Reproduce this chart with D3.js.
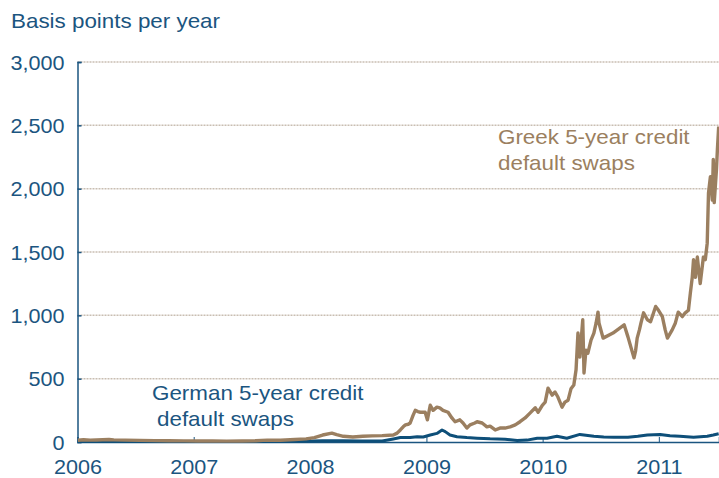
<!DOCTYPE html>
<html>
<head>
<meta charset="utf-8">
<script src="https://cdn.jsdelivr.net/npm/d3@7"></script>
<style>
  body { margin: 0; background: #fff; }
  svg { display: block; font-family: "Liberation Sans", Arial, sans-serif; }
</style>
</head>
<body>
<svg width="719" height="478"></svg>
<script>
// CDS spreads, basis points per year
const greekDates = [
  "2006-01-02","2006-01-20","2006-02-10","2006-03-01","2006-04-10","2006-04-25","2006-06-01","2006-07-15",
  "2006-09-01","2006-10-15","2006-12-01","2007-01-15","2007-03-01","2007-04-15","2007-06-01","2007-07-15",
  "2007-08-20","2007-10-01","2007-11-15","2007-12-20","2008-01-15","2008-02-10","2008-03-10","2008-03-25",
  "2008-04-15","2008-05-15","2008-06-15","2008-07-15","2008-08-15","2008-09-19","2008-10-01","2008-10-11",
  "2008-10-20","2008-10-27","2008-11-05","2008-11-11","2008-11-20","2008-11-27","2008-12-05","2008-12-13",
  "2008-12-28","2009-01-04","2009-01-13","2009-01-22","2009-02-03","2009-02-12","2009-02-22","2009-03-10",
  "2009-03-22","2009-04-01","2009-04-16","2009-04-26","2009-05-08","2009-05-18","2009-06-02","2009-06-09",
  "2009-06-25","2009-07-10","2009-07-20","2009-08-05","2009-08-20","2009-09-05","2009-09-21","2009-10-07",
  "2009-10-22","2009-11-07","2009-11-23","2009-12-09","2009-12-18","2009-12-31","2010-01-09","2010-01-18",
  "2010-01-31","2010-02-09","2010-02-18","2010-03-03","2010-03-12","2010-03-22","2010-03-31","2010-04-09",
  "2010-04-16","2010-04-22","2010-04-28","2010-05-07","2010-05-11","2010-05-17","2010-05-23","2010-06-02",
  "2010-06-11","2010-06-18","2010-06-24","2010-06-27","2010-07-10","2010-08-10","2010-09-14","2010-09-26",
  "2010-10-12","2010-10-15","2010-10-20","2010-10-25","2010-11-01","2010-11-06","2010-11-14","2010-11-26",
  "2010-12-06","2010-12-22","2010-12-31","2011-01-12","2011-01-21","2011-01-28","2011-02-12","2011-02-22",
  "2011-03-03","2011-03-16","2011-03-25","2011-04-04","2011-04-10","2011-04-16","2011-04-20","2011-04-26",
  "2011-05-02","2011-05-11","2011-05-21","2011-05-27","2011-06-02","2011-06-06","2011-06-12","2011-06-18",
  "2011-06-21","2011-06-24","2011-07-01","2011-07-04","2011-07-08"
]
const greekValues = [
  14,18,15,16,20,17,15,13,
  11,10,9,8,9,7,8,10,
  15,14,20,25,35,55,70,58,
  45,40,45,48,50,55,70,95,
  120,135,140,150,210,250,240,235,
  235,175,290,250,275,270,250,235,
  190,160,175,150,110,135,150,160,
  150,120,125,95,110,110,120,135,
  160,190,230,270,235,290,315,425,
  370,395,355,275,315,330,420,450,
  570,860,670,965,545,725,700,805,
  860,940,1025,940,820,860,925,830,
  690,665,720,820,885,940,1020,965,
  950,1070,1040,990,885,820,885,940,
  1025,990,1020,1040,1175,1300,1440,1300,
  1460,1250,1460,1440,1570,1965,2095,1910,
  2230,1890,2150,2310,2490
]

const germanDates = [
  "2006-01-02","2006-04-01","2006-07-01","2006-10-01","2007-01-01","2007-04-01","2007-07-01","2007-10-01",
  "2007-12-10","2008-02-10","2008-04-15","2008-06-10","2008-08-15","2008-09-19","2008-10-11","2008-11-11",
  "2008-12-03","2008-12-22","2009-01-13","2009-02-03","2009-02-19","2009-03-01","2009-03-16","2009-04-07",
  "2009-05-08","2009-06-09","2009-07-20","2009-09-05","2009-10-13","2009-11-13","2009-12-15","2010-01-15",
  "2010-02-15","2010-03-18","2010-04-28","2010-06-11","2010-07-12","2010-08-13","2010-09-26","2010-10-27",
  "2010-11-26","2011-01-05","2011-02-05","2011-03-08","2011-04-20","2011-06-02","2011-06-21","2011-07-08"
]
const germanValues = [
  3,4,3,4,3,4,4,6,
  6,10,10,8,8,24,35,35,
  42,40,55,68,95,82,55,42,
  35,30,25,22,12,15,30,30,
  45,30,60,45,40,37,37,45,
  55,60,50,45,37,45,55,65
]

const yTicks = [0, 500, 1000, 1500, 2000, 2500, 3000]
const xTickYears = ["2006","2007","2008","2009","2010","2011"]

const blue = "#1b5580"
const lineBlue = "#0e4f79"
const brown = "#9b7f60"

let parse = d3.timeParse("%Y-%m-%d")
let greek = greekDates.map((d, i) => ({ date: parse(d), value: greekValues[i] }))
let german = germanDates.map((d, i) => ({ date: parse(d), value: germanValues[i] }))

let plotLeft = 77.5, plotRight = 719, plotTop = 62, plotBottom = 442
// the source lettering is a little wider than Liberation Sans at the same height
let stretch = 1.12, tickStretch = 1.08

let x = d3.scaleTime()
    .domain([parse("2006-01-01"), parse("2011-07-09")])
    .range([plotLeft, plotRight])

let y = d3.scaleLinear()
    .domain([0, 3000])
    .range([plotBottom, plotTop])

let svg = d3.select("svg")

// title
svg.append("text")
    .attr("transform", "translate(11,27.5) scale(" + stretch + ",1)")
    .attr("fill", blue)
    .style("font-size", "20px")
    .text("Basis points per year")

// grid lines
svg.append("g")
    .selectAll("line")
    .data(yTicks.filter(d => d > 0))
    .enter().append("line")
    .attr("x1", plotLeft)
    .attr("x2", plotRight)
    .attr("y1", d => y(d))
    .attr("y2", d => y(d))
    .attr("stroke", "#c9beb2")
    .attr("stroke-width", 1.5)
    .attr("stroke-dasharray", "2,1")

// y axis
let yAxis = svg.append("g")
    .attr("transform", "translate(" + plotLeft + ",0)")
    .call(d3.axisRight(y).tickValues(yTicks).tickSize(4).tickFormat(d3.format(",")))
yAxis.select(".domain").attr("stroke", blue).attr("stroke-width", 1.5)
yAxis.selectAll(".tick line").attr("stroke", blue).attr("stroke-width", 1.5)
yAxis.selectAll(".tick text")
    .attr("x", 0)
    .attr("dy", "0.35em")
    .attr("transform", "translate(-13,0) scale(" + tickStretch + ",1)")
    .attr("text-anchor", "end")
    .attr("fill", blue)
    .style("font-size", "20px")
    .style("font-family", "Liberation Sans, Arial, sans-serif")

// x axis (ticks point up into the plot)
let xAxis = svg.append("g")
    .attr("transform", "translate(0," + plotBottom + ")")
    .call(d3.axisTop(x).tickValues(xTickYears.map(d => parse(d + "-01-01"))).tickSize(5).tickFormat(d3.timeFormat("%Y")))
xAxis.select(".domain").attr("stroke", blue).attr("stroke-width", 1.5)
xAxis.selectAll(".tick line").attr("stroke", blue).attr("stroke-width", 1)
xAxis.selectAll(".tick text")
    .attr("y", 0)
    .attr("dy", 0)
    .attr("transform", "translate(0,32) scale(" + tickStretch + ",1)")
    .attr("fill", blue)
    .style("font-size", "20px")
    .style("font-family", "Liberation Sans, Arial, sans-serif")

let line = d3.line()
    .x(d => x(d.date))
    .y(d => y(d.value))

svg.append("path")
    .datum(german)
    .attr("d", line)
    .attr("fill", "none")
    .attr("stroke", lineBlue)
    .attr("stroke-width", 3)
    .attr("stroke-linejoin", "round")

svg.append("path")
    .datum(greek)
    .attr("d", line)
    .attr("fill", "none")
    .attr("stroke", brown)
    .attr("stroke-width", 3.4)
    .attr("stroke-linejoin", "round")

// labels
let greekLabel = svg.append("text")
    .attr("transform", "translate(498,0) scale(" + stretch + ",1)")
    .attr("fill", brown)
    .style("font-size", "20px")
greekLabel.append("tspan").attr("x", 0).attr("y", 144).text("Greek 5-year credit")
greekLabel.append("tspan").attr("x", 0).attr("y", 170).text("default swaps")

let germanLabel = svg.append("text")
    .attr("transform", "translate(152,0) scale(" + stretch + ",1)")
    .attr("fill", blue)
    .style("font-size", "20px")
germanLabel.append("tspan").attr("x", 0).attr("y", 400.5).text("German 5-year credit")
germanLabel.append("tspan").attr("x", 5 / stretch).attr("y", 426.5).text("default swaps")
</script>
</body>
</html>
